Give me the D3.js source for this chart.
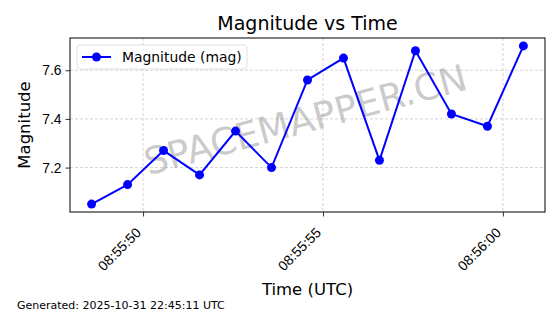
<!DOCTYPE html>
<html>
<head>
<meta charset="utf-8">
<script src="https://cdn.jsdelivr.net/npm/d3@7"></script>
<style>
body { margin: 0; background: #fff; }
svg { display: block; font-family: "DejaVu Sans", sans-serif; }
</style>
</head>
<body>
<svg id="chart" width="560" height="314"></svg>
<script>
// seconds after 08:55:00 UTC, one reading per second
var times = [48.57, 49.57, 50.57, 51.57, 52.57, 53.57, 54.57, 55.57, 56.57, 57.57, 58.57, 59.57, 60.57];
var magnitudes = [7.05, 7.13, 7.27, 7.17, 7.35, 7.20, 7.56, 7.65, 7.23, 7.68, 7.42, 7.37, 7.70];
var yTicks = [7.2, 7.4, 7.6];
var xTickSeconds = [50, 55, 60];

var baseMs = Date.UTC(2025, 9, 31, 8, 55, 0);
var data = times.map(function(t, i) {
	return { date: new Date(baseMs + t * 1000), mag: magnitudes[i] };
});

var margin = { left: 70, right: 15, top: 38, bottom: 102 };
var width = 560 - margin.left - margin.right;
var height = 314 - margin.top - margin.bottom;

var svg = d3.select("#chart");

// matplotlib style 5% padding on both axes
var tExt = d3.extent(data, function(d) { return d.date.getTime(); });
var tPad = (tExt[1] - tExt[0]) * 0.05;
var mExt = d3.extent(magnitudes);
var mPad = (mExt[1] - mExt[0]) * 0.05;

var xScale = d3.scaleUtc()
	.domain([new Date(tExt[0] - tPad), new Date(tExt[1] + tPad)])
	.range([0, width]);
var yScale = d3.scaleLinear()
	.domain([mExt[0] - mPad, mExt[1] + mPad])
	.range([height, 0]);

var g = svg.append("g").attr("transform", "translate(" + margin.left + "," + margin.top + ")");

var xTickDates = xTickSeconds.map(function(s) { return new Date(baseMs + s * 1000); });

// grid
g.append("g").selectAll("line.vg")
	.data(xTickDates).enter().append("line")
	.attr("x1", function(d) { return xScale(d); })
	.attr("x2", function(d) { return xScale(d); })
	.attr("y1", 0).attr("y2", height)
	.attr("stroke", "#c8c8c8").attr("stroke-width", 0.8).attr("stroke-dasharray", "3,2");
g.append("g").selectAll("line.hg")
	.data(yTicks).enter().append("line")
	.attr("y1", function(d) { return yScale(d); })
	.attr("y2", function(d) { return yScale(d); })
	.attr("x1", 0).attr("x2", width)
	.attr("stroke", "#c8c8c8").attr("stroke-width", 0.8).attr("stroke-dasharray", "3,2");

// watermark
g.append("text")
	.attr("x", 236).attr("y", 84)
	.attr("text-anchor", "middle")
	.attr("dominant-baseline", "middle")
	.attr("transform", "rotate(-15,236,84)")
	.attr("font-size", 37)
	.attr("fill", "#808080").attr("fill-opacity", 0.42)
	.text("SPACEMAPPER.CN");

// line + markers
var line = d3.line()
	.x(function(d) { return xScale(d.date); })
	.y(function(d) { return yScale(d.mag); });
g.append("path")
	.datum(data)
	.attr("d", line)
	.attr("fill", "none")
	.attr("stroke", "#0000ff")
	.attr("stroke-width", 2);
g.selectAll("circle.pt")
	.data(data).enter().append("circle")
	.attr("cx", function(d) { return xScale(d.date); })
	.attr("cy", function(d) { return yScale(d.mag); })
	.attr("r", 4.5)
	.attr("fill", "#0000ff");

// axes
var fmt = d3.utcFormat("%H:%M:%S");
var xAxis = d3.axisBottom(xScale).tickValues(xTickDates).tickFormat(fmt).tickSize(4.5).tickPadding(3);
var yAxis = d3.axisLeft(yScale).tickValues(yTicks).tickFormat(d3.format(".1f")).tickSize(4.5).tickPadding(4);

var xg = g.append("g").attr("transform", "translate(0," + height + ")").call(xAxis);
xg.select(".domain").remove();
xg.selectAll("text")
	.attr("font-size", 13.9)
	.attr("fill", "#000")
	.attr("text-anchor", "end")
	.attr("x", 0).attr("y", 0)
	.attr("dy", "0.35em")
	.attr("transform", "translate(-5,18) rotate(-45)");
xg.selectAll("line").attr("stroke", "#000").attr("stroke-width", 0.8);

var yg = g.append("g").call(yAxis);
yg.select(".domain").remove();
yg.selectAll("text").attr("font-size", 13.9).attr("fill", "#000");
yg.selectAll("line").attr("stroke", "#000").attr("stroke-width", 0.8);

// frame
g.append("rect")
	.attr("width", width).attr("height", height)
	.attr("fill", "none").attr("stroke", "#000").attr("stroke-width", 1);

// legend
var leg = g.append("g").attr("transform", "translate(7,7)");
leg.append("rect")
	.attr("width", 170).attr("height", 24).attr("rx", 3)
	.attr("fill", "#fff").attr("fill-opacity", 0.8)
	.attr("stroke", "#d8d8d8").attr("stroke-width", 0.8);
leg.append("line")
	.attr("x1", 5).attr("x2", 34).attr("y1", 12).attr("y2", 12)
	.attr("stroke", "#0000ff").attr("stroke-width", 2);
leg.append("circle").attr("cx", 19.5).attr("cy", 12).attr("r", 4.5).attr("fill", "#0000ff");
leg.append("text")
	.attr("x", 45).attr("y", 12).attr("dy", "0.35em")
	.attr("font-size", 13.9)
	.text("Magnitude (mag)");

// titles
svg.append("text")
	.attr("x", margin.left + width / 2).attr("y", 30)
	.attr("text-anchor", "middle")
	.attr("font-size", 19)
	.text("Magnitude vs Time");
svg.append("text")
	.attr("x", margin.left + width / 2).attr("y", 295)
	.attr("text-anchor", "middle")
	.attr("font-size", 16.5)
	.text("Time (UTC)");
svg.append("text")
	.attr("transform", "translate(30," + (margin.top + height / 2) + ") rotate(-90)")
	.attr("text-anchor", "middle")
	.attr("font-size", 16.5)
	.text("Magnitude");

svg.append("text")
	.attr("x", 17).attr("y", 309)
	.attr("font-size", 11)
	.text("Generated: 2025-10-31 22:45:11 UTC");
</script>
</body>
</html>
